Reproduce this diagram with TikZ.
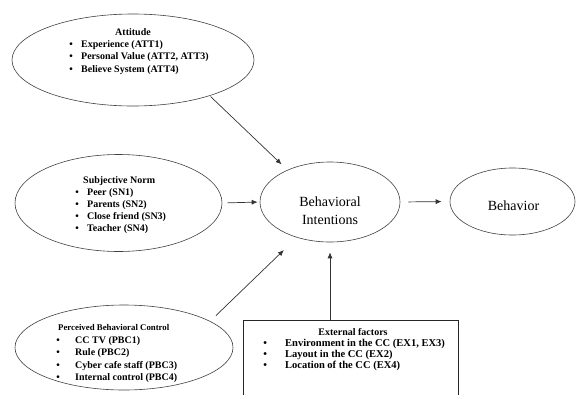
\documentclass[tikz,border=0pt]{standalone}
\usepackage{fontspec}
\setmainfont{Liberation Serif}
\usetikzlibrary{arrows.meta,shapes.geometric}
\begin{document}
\begin{tikzpicture}[x=1pt,y=-1pt,
  shapeell/.style={draw=black!75, line width=0.6pt, ellipse, inner sep=0pt},
  small/.style={font=\fontsize{10}{12}\selectfont\bfseries, inner sep=0pt},
  smallx/.style={font=\fontsize{10.5}{12}\selectfont\bfseries, inner sep=0pt},
  big/.style={font=\fontsize{14}{16}\selectfont, inner sep=0pt},
  conn/.style={draw=black!80, line width=0.7pt, -{Latex[length=6pt,width=5pt]}}]
\useasboundingbox (0,0) rectangle (576,394);
% Attitude
\node[shapeell, minimum width=242pt, minimum height=92pt] (att) at (133,60) {};
\node[small, anchor=base] (atttitle) at (133,35) {Attitude};
\foreach \t [count=\i] in {Experience (ATT1), {Personal Value (ATT2, ATT3)}, Believe System (ATT4)}
  \node[small, anchor=base west] (att\i) at (81, {47+12.5*(\i-1)}) {\llap{\textbullet\hspace{8.25pt}}\t};
% Subjective norm
\node[shapeell, minimum width=207pt, minimum height=97pt] (sn) at (118.5,203) {};
\node[small, anchor=base west] (sntitle) at (83,183.5) {Subjective Norm};
\foreach \t [count=\i] in {Peer (SN1), Parents (SN2), Close friend (SN3), Teacher (SN4)}
  \node[small, anchor=base west] (sn\i) at (87, {195.5+12*(\i-1)}) {\llap{\textbullet\hspace{8.25pt}}\t};
% PBC
\node[shapeell, minimum width=218pt, minimum height=85pt] (pbc) at (124,347.5) {};
\node[font=\fontsize{8.8}{11}\selectfont\bfseries, inner sep=0pt, anchor=base west] (pbctitle) at (58,330.5) {Perceived Behavioral Control};
\foreach \t [count=\i] in {CC TV (PBC1), Rule (PBC2), Cyber cafe staff (PBC3), Internal control (PBC4)}
  \node[small, anchor=base west] (pbc\i) at (75, {343.5+12.3*(\i-1)}) {\llap{\textbullet\hspace{15.25pt}}\t};
% External factors
\node[draw=black!85, line width=0.7pt, minimum width=215pt, minimum height=110pt, anchor=north west, inner sep=0pt] (ex) at (243,320) {};
\node[small, anchor=base] (extitle) at (353,335.5) {External factors};
\foreach \t [count=\i] in {{Environment in the CC (EX1, EX3)}, Layout in the CC (EX2), Location of the CC (EX4)}
  \node[smallx, anchor=base west] (ex\i) at (285, {346.5+11*(\i-1)}) {\llap{\textbullet\hspace{18.25pt}}\t};
% Behavioral intentions
\node[shapeell, minimum width=140pt, minimum height=80pt] (bi) at (330,202) {};
\node[big, anchor=base] (bit1) at (330,206.5) {Behavioral};
\node[big, anchor=base] (bit2) at (330,224.5) {Intentions};
% Behavior
\node[shapeell, minimum width=125pt, minimum height=67pt] (beh) at (512.5,201.5) {};
\node[big, anchor=base] (beht) at (513.5,210.5) {Behavior};
% Connectors
\draw[conn, shorten <=1pt, shorten >=8pt] (att.-25) -- (bi.143);
\draw[conn, shorten <=5pt, shorten >=2pt] (sn.east) -- (bi.west);
\draw[conn, shorten <=8pt, shorten >=18pt] (pbc.17) -- (bi.227);
\draw[conn, shorten >=10pt] (bi.south |- ex.north) -- (bi.south);
\draw[conn, shorten <=8pt, shorten >=8pt] (bi.east) -- (beh.west);
\end{tikzpicture}
\end{document}
